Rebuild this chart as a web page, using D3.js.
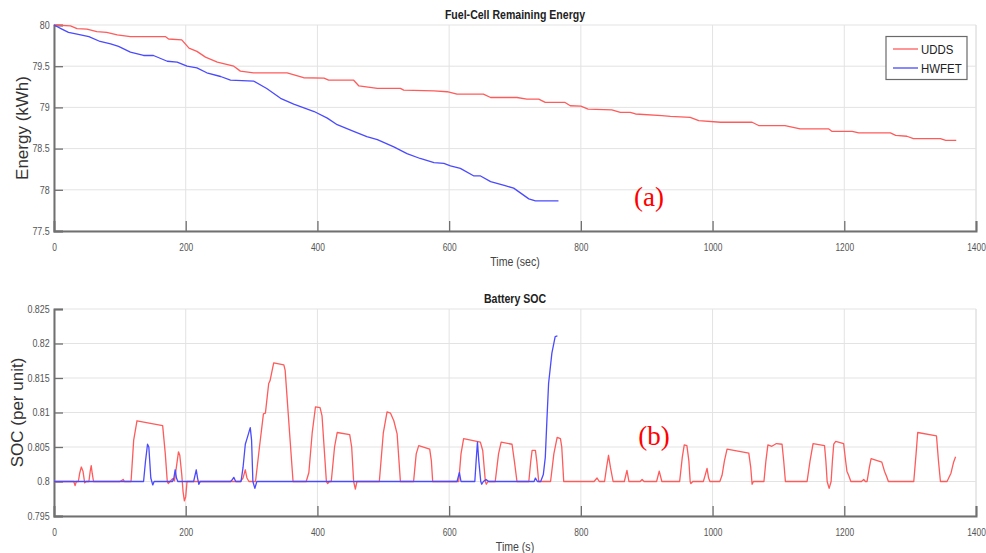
<!DOCTYPE html>
<html><head><meta charset="utf-8">
<script src="https://cdn.jsdelivr.net/npm/d3@7/dist/d3.min.js"></script>
<style>
body{margin:0;background:#fff;}
svg{display:block;}
.tick text{font-family:"Liberation Sans Narrow","Arial Narrow","Liberation Sans",Arial,sans-serif;font-size:10.5px;fill:#555;}
</style></head>
<body><svg id="c" width="986" height="553"></svg>
<script>
// ---- Data ----
const seriesNames = ["UDDS", "HWFET"];
const energyTicksX = [0, 200, 400, 600, 800, 1000, 1200, 1400];
const energyTicksY = [77.5, 78, 78.5, 79, 79.5, 80];
const socTicksY = [0.795, 0.8, 0.805, 0.81, 0.815, 0.82, 0.825];

// Fuel-cell remaining energy, UDDS: [time (s), kWh]
const energyUDDS = [
 [0,80],[25,79.99],[35,79.955],[50,79.95],[65,79.92],[80,79.91],[96,79.88],[116,79.86],[169,79.86],
 [174,79.83],[194,79.82],[205,79.72],[217,79.68],[230,79.61],[248,79.55],[273,79.50],[283,79.44],
 [303,79.42],[354,79.42],[379,79.36],[410,79.355],[417,79.33],[455,79.33],[463,79.26],[491,79.23],
 [526,79.23],[531,79.21],[577,79.20],[597,79.19],[612,79.16],[652,79.16],[663,79.12],[703,79.12],
 [718,79.10],[736,79.10],[746,79.06],[776,79.06],[784,79.02],[800,79.015],[811,78.98],[847,78.97],
 [860,78.94],[875,78.94],[883,78.92],[923,78.90],[936,78.89],[966,78.88],[979,78.84],[1012,78.82],
 [1060,78.82],[1070,78.78],[1110,78.78],[1133,78.74],[1176,78.74],[1181,78.71],[1212,78.71],
 [1222,78.69],[1270,78.69],[1278,78.66],[1295,78.65],[1305,78.62],[1346,78.62],[1354,78.60],[1370,78.60]
];
// Fuel-cell remaining energy, HWFET
const energyHWFET = [
 [0,80],[12,79.95],[22,79.91],[35,79.89],[53,79.86],[70,79.80],[86,79.77],[98,79.74],[116,79.67],
 [136,79.63],[151,79.63],[172,79.56],[187,79.55],[202,79.50],[217,79.48],[232,79.42],[253,79.375],
 [268,79.33],[303,79.32],[323,79.23],[344,79.11],[364,79.04],[395,78.95],[415,78.87],[430,78.79],
 [455,78.71],[475,78.645],[491,78.61],[516,78.52],[536,78.44],[556,78.38],[577,78.33],[592,78.32],
 [602,78.29],[617,78.26],[637,78.17],[647,78.17],[663,78.10],[685,78.05],[698,78.02],[721,77.89],
 [731,77.865],[766,77.865]
];
// Battery SOC, UDDS
const socUDDS = [
 [0,0.8],[30,0.8],[32,0.7994],[34,0.8],[37,0.8],[39,0.8012],[41.5,0.8021],[44,0.8015],[46.6,0.7998],[49,0.8],
 [53,0.8],[55,0.8015],[56.5,0.8023],[58,0.8012],[60,0.8],[100,0.8],[105,0.8003],[107,0.8],[117,0.8],
 [121,0.806],[126,0.8088],[165,0.8081],[169,0.804],[172,0.8],[173.5,0.7997],[176,0.8],[180,0.8004],
 [183,0.8001],[185,0.8015],[189,0.8043],[191,0.8038],[194,0.801],[196,0.7985],[198,0.7972],[200,0.7978],
 [202,0.8],[283,0.8],[287,0.8005],[290.5,0.8017],[293,0.8005],[296,0.8],[306,0.8],[312,0.805],[318,0.8098],
 [321,0.8099],[326,0.8142],[328,0.8146],[333.6,0.8172],[349,0.8169],[351,0.8161],[357,0.808],[363,0.8],
 [383,0.8],[387,0.8013],[392,0.807],[397,0.8108],[404,0.8107],[407,0.8095],[413.6,0.8],[415.6,0.7997],
 [418,0.8],[421,0.8],[426,0.805],[430,0.8071],[449,0.8068],[452,0.805],[455,0.8],[457.6,0.7989],[460,0.8],
 [494,0.8],[500,0.807],[505.7,0.8101],[511,0.8099],[516,0.8088],[521,0.8069],[526,0.8],[546,0.8],
 [550,0.804],[553.8,0.8052],[570.5,0.8047],[573,0.803],[575,0.8],[614.6,0.8],[618,0.804],[622,0.8062],
 [647.4,0.8057],[651,0.8045],[655,0.8],[656.5,0.7996],[659,0.8],[670,0.8],[675,0.804],[679,0.8057],
 [695.5,0.8054],[699,0.803],[703,0.8],[721,0.8],[724,0.803],[726,0.8045],[731,0.8045],[733,0.803],
 [736,0.8],[754,0.8],[759,0.804],[764,0.8064],[769,0.8062],[771,0.805],[774,0.8],[820,0.8],[824.6,0.8005],
 [828,0.8],[836,0.8],[839,0.802],[842,0.8038],[845,0.802],[849,0.8],[866,0.8],[870,0.8016],[873,0.8],
 [890,0.8],[893,0.8003],[896,0.8],[915,0.8],[919,0.8015],[923,0.8],[950,0.8],[954,0.8035],[957,0.8053],
 [961,0.8052],[964,0.803],[966,0.8],[967,0.7997],[970,0.8],[986,0.8],[989,0.801],[991.6,0.8019],
 [994,0.8005],[996,0.8],[1011,0.8],[1014.4,0.8009],[1018,0.803],[1022,0.8047],[1055,0.8041],[1058,0.802],
 [1060,0.7996],[1062,0.8],[1078,0.8],[1081,0.803],[1084,0.8053],[1090,0.8051],[1097,0.8055],
 [1105.5,0.8054],[1108,0.803],[1110.6,0.8],[1143.5,0.8],[1148,0.803],[1152.6,0.8055],[1170,0.8052],
 [1172,0.803],[1174,0.8],[1177,0.799],[1180,0.8],[1182,0.803],[1184,0.8054],[1187,0.8058],[1199,0.8055],
 [1202,0.803],[1204,0.8015],[1207,0.8008],[1210,0.8],[1226,0.8],[1229.5,0.8003],[1232,0.8],[1234.6,0.8],
 [1238,0.802],[1240.7,0.8033],[1257,0.8028],[1261,0.8015],[1264,0.8008],[1267,0.8],[1305.5,0.8],
 [1309,0.804],[1311.5,0.8071],[1340,0.8066],[1343,0.803],[1346,0.8],[1356,0.8],[1362,0.8012],
 [1366,0.8028],[1369,0.8036]
];
// Battery SOC, HWFET
const socHWFET = [
 [0,0.8],[136,0.8],[139,0.803],[142,0.8054],[144,0.805],[147,0.8005],[150,0.7995],[152,0.8],[180,0.8],
 [182,0.8005],[184,0.8017],[186,0.8005],[188,0.8],[212,0.8],[216,0.8017],[218,0.8005],[220,0.7996],
 [222,0.8],[268,0.8],[271,0.8003],[273,0.8006],[276,0.8],[284,0.8],[287,0.802],[290.5,0.8054],
 [294,0.8065],[298,0.8078],[300,0.806],[302,0.8],[305,0.799],[308,0.8],[612,0.8],[615.6,0.8013],
 [618,0.8],[639,0.8],[641,0.803],[643,0.8057],[645,0.803],[648,0.8],[649.5,0.7996],[652,0.8],
 [656,0.8003],[660,0.8],[729,0.8],[731,0.8005],[734,0.8],[739,0.8],[743,0.801],[746,0.8035],
 [748.5,0.809],[751,0.8142],[756,0.8186],[761,0.821],[764.4,0.8211]
];

// ---- Drawing ----
const svg = d3.select("#c");
const colors = {UDDS:"#ff5b5b", HWFET:"#4a4aff"};
const L = 54, R = 976;
const narrow = "Liberation Sans Narrow, Arial Narrow, Liberation Sans, Arial, sans-serif";

function panel(cfg){
  const x = d3.scaleLinear().domain([0,1400]).range([L,R]);
  const y = d3.scaleLinear().domain(cfg.yDomain).range([cfg.bottom, cfg.top]);
  const g = svg.append("g");
  g.append("g").selectAll("line").data(energyTicksX).join("line")
    .attr("x1",d=>x(d)).attr("x2",d=>x(d)).attr("y1",cfg.top).attr("y2",cfg.bottom)
    .attr("stroke","#e3e3e3").attr("stroke-width",1);
  g.append("g").selectAll("line").data(cfg.yTicks).join("line")
    .attr("x1",L).attr("x2",R).attr("y1",d=>y(d)).attr("y2",d=>y(d))
    .attr("stroke","#e3e3e3").attr("stroke-width",1);
  g.append("line").attr("x1",R).attr("x2",R).attr("y1",cfg.top).attr("y2",cfg.bottom)
    .attr("stroke","#e0e0e0");
  const xa = g.append("g").attr("transform",`translate(0,${cfg.bottom})`)
    .call(d3.axisBottom(x).tickValues(energyTicksX).tickSize(-10).tickPadding(13).tickFormat(d3.format("d")));
  xa.select(".domain").attr("stroke","#707070").attr("stroke-width",2);
  xa.selectAll(".tick line").attr("stroke","#707070").attr("stroke-width",1.3);
  xa.selectAll(".tick").filter(d=>d===0).select("line").remove();
  xa.selectAll(".tick text").attr("transform","scale(0.8,1)");
  const ya = g.append("g").attr("transform",`translate(${L},0)`)
    .call(d3.axisLeft(y).tickValues(cfg.yTicks).tickSize(-9).tickPadding(5).tickFormat(cfg.fmt));
  ya.select(".domain").attr("stroke","#707070").attr("stroke-width",2);
  ya.selectAll(".tick line").attr("stroke","#707070").attr("stroke-width",1.3);
  ya.selectAll(".tick text").attr("transform","scale(0.85,1)");
  const line = d3.line().x(d=>x(d[0])).y(d=>y(d[1]));
  cfg.series.forEach((s,i)=>{
    g.append("path").datum(s).attr("d",line).attr("fill","none")
      .attr("stroke",colors[seriesNames[i]]).attr("stroke-width",1.3).attr("stroke-linejoin","round");
  });
  const cx = (L+R)/2;
  g.append("text").attr("transform",`translate(${cx},${cfg.top-6}) scale(0.88,1)`).attr("text-anchor","middle")
    .attr("font-family",narrow).attr("font-weight","bold").attr("font-size",12).attr("fill","#222").text(cfg.title);
  g.append("text").attr("transform",`translate(${cx},${cfg.bottom+35}) scale(0.88,1)`).attr("text-anchor","middle")
    .attr("font-family",narrow).attr("font-size",12).attr("fill","#444").text(cfg.xlabel);
  g.append("text").attr("transform",`translate(${cfg.ylx},${(cfg.top+cfg.bottom)/2}) rotate(-90)`)
    .attr("text-anchor","middle").attr("font-family","Liberation Sans, Arial, sans-serif")
    .attr("font-size",17).attr("fill","#333").text(cfg.ylabel);
  g.append("text").attr("x",cfg.ann[0]).attr("y",cfg.ann[1]).attr("text-anchor","middle")
    .attr("font-family","Liberation Serif, Times New Roman, serif").attr("font-size",27)
    .attr("fill","#ff0000").text(cfg.annText);
  return {x,y,g};
}

panel({
  top:25, bottom:231, yDomain:[77.5,80], yTicks:energyTicksY, fmt:d3.format("~g"),
  series:[energyUDDS, energyHWFET], title:"Fuel-Cell Remaining Energy", xlabel:"Time (sec)",
  ylabel:"Energy (kWh)", ylx:28, ann:[649,206], annText:"(a)"
});
panel({
  top:309, bottom:516, yDomain:[0.795,0.825], yTicks:socTicksY, fmt:d3.format("~g"),
  series:[socUDDS, socHWFET], title:"Battery SOC", xlabel:"Time (s)",
  ylabel:"SOC (per unit)", ylx:23, ann:[654,445], annText:"(b)"
});

const lg = svg.append("g");
lg.append("rect").attr("x",886).attr("y",36.5).attr("width",81).attr("height",43)
  .attr("fill","#fff").attr("stroke","#6a6a6a").attr("stroke-width",1.2);
seriesNames.forEach((n,i)=>{
  const yy = 49 + i*19;
  lg.append("line").attr("x1",893).attr("x2",918).attr("y1",yy).attr("y2",yy)
    .attr("stroke",colors[n]).attr("stroke-width",1.3);
  lg.append("text").attr("transform",`translate(921,${yy+5}) scale(0.88,1)`)
    .attr("font-family",narrow).attr("font-size",13).attr("fill","#222").text(n);
});
</script>
</body></html>
